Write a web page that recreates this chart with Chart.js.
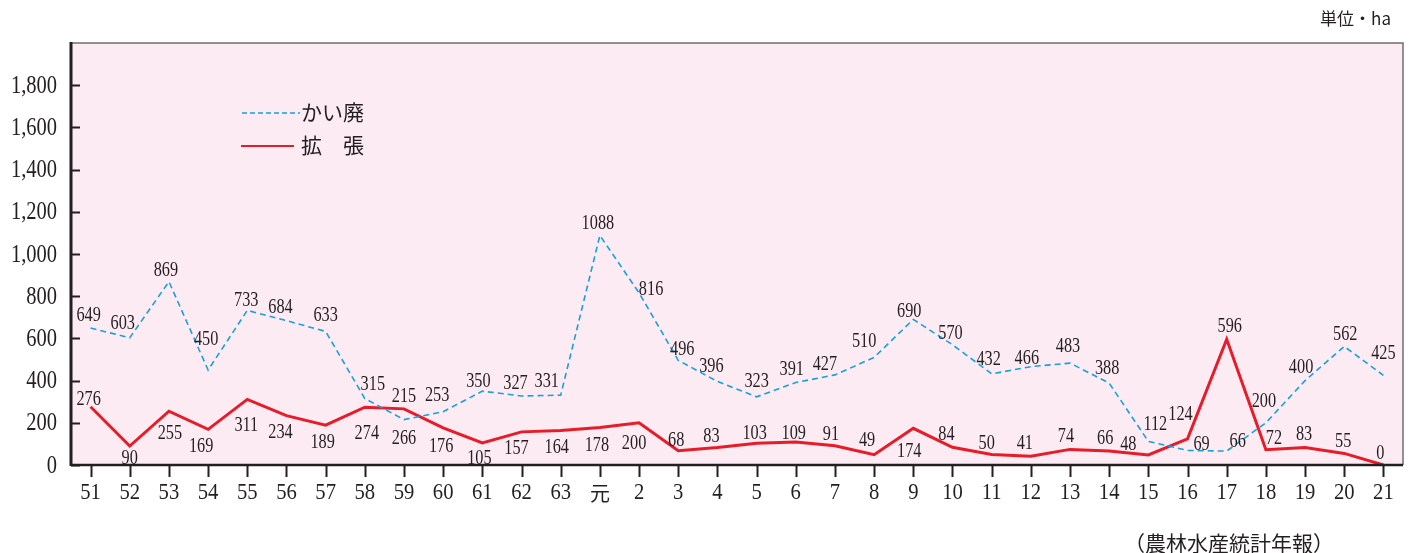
<!DOCTYPE html>
<html>
<head>
<meta charset="utf-8">
<script src="https://cdn.jsdelivr.net/npm/chart.js@4.4.1/dist/chart.umd.min.js"></script>
<style>
  html, body { margin: 0; padding: 0; background: #ffffff; }
  #wrap { width: 1414px; height: 553px; }
</style>
</head>
<body>
<div id="wrap"><canvas id="c" width="1414" height="553"></canvas></div>
<script>
// ---- data ----
const categories = ['51','52','53','54','55','56','57','58','59','60','61','62','63','元',
  '2','3','4','5','6','7','8','9','10','11','12','13','14','15','16','17','18','19','20','21'];
const kaihai = [649,603,869,450,733,684,633,315,215,253,350,327,331,1088,
  816,496,396,323,391,427,510,690,570,432,466,483,388,112,69,66,200,400,562,425];
const kakucho = [276,90,255,169,311,234,189,274,266,176,105,157,164,178,
  200,68,83,103,109,91,49,174,84,50,41,74,66,48,124,596,72,83,55,0];
const seriesNames = ['かい廃', '拡\u3000張'];
const yTicks = [0,200,400,600,800,1000,1200,1400,1600,1800];
const unitText = '単位・ha';
const sourceText = '（農林水産統計年報）';

// ---- label placement (styling only) ----
const kaiLabelOffsets = [[-2,-14],[-7,-16],[-3,-12],[-2,-32],[-1,-11],[-6,-14],[0,-17],[8,-15],[0,-24],[-6,-17],
  [-4,-11],[-6,-14],[-14,-15],[-2,-13],[12,-5],[4,-12],[-6,-16],[0,-17],[-4,-14],[-10,-12],[-10,-17],[-4,-9],
  [-2,-13],[-3,-16],[-4,-9],[-2,-18],[-2,-16],[7,-18],[14,-7],[11,-11],[-2,-23],[-4,-14],[1,-13],[0,-23]];
const kakLabelOffsets = [[-2,-9],[0,11],[1,21],[-7,16],[-1,25],[-6,16],[-3,16],[2,25],[0,28],[-2,17],
  [-3,14],[-5,15],[-4,16],[-3,17],[-5,19],[-2,-11],[-6,-12],[-2,-11],[-2,-10],[-4,-13],[-7,-15],[-4,22],
  [-6,-14],[-5,-12],[-6,-14],[-4,-14],[-4,-14],[-20,-12],[-7,-26],[3,-14],[8,-13],[-1,-14],[-1,-13],[-3,-13]];

const BLUE = 'rgb(20,160,225)';
const RED = 'rgb(232,28,40)';
const INK = '#231f20';
const SERIF = '"Liberation Serif", "DejaVu Serif", "Noto Sans CJK JP", serif';
const CJK = '"Noto Sans CJK JP", "Liberation Serif", sans-serif';

// draw horizontally condensed text (mimics the narrow serif digits of the original)
function condensedText(ctx, text, x, y, sx, align) {
  ctx.save();
  ctx.translate(x, y);
  ctx.scale(sx, 1);
  ctx.textAlign = align;
  ctx.fillText(text, 0, 0);
  ctx.restore();
}

const framePlugin = {
  id: 'frame',
  beforeDraw(chart) {
    const {ctx, chartArea: a} = chart;
    ctx.save();
    ctx.fillStyle = 'rgb(252,235,243)';
    ctx.fillRect(a.left, a.top, a.right - a.left, a.bottom - a.top);
    ctx.restore();
  },
  afterDatasetsDraw(chart) {
    const {ctx, chartArea: a} = chart;
    const xs = chart.scales.x, ys = chart.scales.y;
    ctx.save();
    // top & right border
    ctx.strokeStyle = '#6d6d6d';
    ctx.lineWidth = 1.5;
    ctx.beginPath();
    ctx.moveTo(a.left, a.top); ctx.lineTo(a.right, a.top); ctx.lineTo(a.right, a.bottom);
    ctx.stroke();
    // left axis
    ctx.strokeStyle = INK;
    ctx.lineWidth = 3;
    ctx.beginPath();
    ctx.moveTo(a.left, a.top - 1); ctx.lineTo(a.left, a.bottom + 1);
    ctx.stroke();
    // bottom axis
    ctx.lineWidth = 2.5;
    ctx.beginPath();
    ctx.moveTo(a.left, a.bottom); ctx.lineTo(a.right, a.bottom);
    ctx.stroke();
    // y ticks (inside) + labels
    ctx.lineWidth = 2;
    ctx.fillStyle = INK;
    ctx.textBaseline = 'middle';
    ctx.font = '25px ' + SERIF;
    yTicks.forEach(v => {
      const yp = ys.getPixelForValue(v);
      const y = Math.round(yp) + 0.5;
      ctx.beginPath(); ctx.moveTo(a.left, y); ctx.lineTo(a.left + 9, y); ctx.stroke();
      condensedText(ctx, v.toLocaleString('en-US'), a.left - 14, yp + 1, 0.82, 'right');
    });
    // x ticks (outside) + labels
    ctx.font = '24px ' + SERIF;
    categories.forEach((c, i) => {
      const xp = xs.getPixelForTick(i);
      const x = Math.round(xp) + 0.5;
      ctx.beginPath(); ctx.moveTo(x, a.bottom); ctx.lineTo(x, a.bottom + 12); ctx.stroke();
      if (c === '元') {
        ctx.save(); ctx.font = '20px ' + CJK; ctx.textAlign = 'center';
        ctx.fillText(c, xp, a.bottom + 28); ctx.restore();
      } else {
        condensedText(ctx, c, xp, a.bottom + 28, 0.86, 'center');
      }
    });

    // data labels
    ctx.font = '22px ' + SERIF;
    const m0 = chart.getDatasetMeta(0), m1 = chart.getDatasetMeta(1);
    m0.data.forEach((p, i) => {
      const o = kaiLabelOffsets[i];
      condensedText(ctx, String(kaihai[i]), p.x + o[0], p.y + o[1] + 1, 0.74, 'center');
    });
    m1.data.forEach((p, i) => {
      const o = kakLabelOffsets[i];
      condensedText(ctx, String(kakucho[i]), p.x + o[0], p.y + o[1] + 1, 0.74, 'center');
    });

    // legend
    ctx.lineWidth = 1.6;
    ctx.strokeStyle = BLUE;
    ctx.setLineDash([5, 3]);
    ctx.beginPath(); ctx.moveTo(242, 113); ctx.lineTo(300, 113); ctx.stroke();
    ctx.setLineDash([]);
    ctx.strokeStyle = RED;
    ctx.lineWidth = 2;
    ctx.beginPath(); ctx.moveTo(241, 146); ctx.lineTo(294, 146); ctx.stroke();
    ctx.fillStyle = INK;
    ctx.font = '21px ' + CJK;
    ctx.textAlign = 'left';
    ctx.fillText(seriesNames[0], 301, 112);
    ctx.fillText(seriesNames[1], 301, 145);

    // unit & source
    ctx.font = '17px ' + CJK;
    ctx.textAlign = 'right';
    ctx.fillText(unitText, 1391, 19);
    ctx.font = '21px ' + CJK;
    ctx.fillText(sourceText, 1334, 543);
    ctx.restore();
  }
};

new Chart(document.getElementById('c'), {
  type: 'line',
  data: {
    labels: categories,
    datasets: [
      { label: seriesNames[0], data: kaihai, borderColor: BLUE, borderWidth: 1.6,
        borderDash: [6, 4], pointRadius: 0, tension: 0, fill: false },
      { label: seriesNames[1], data: kakucho, borderColor: RED, borderWidth: 3,
        pointRadius: 0, tension: 0, fill: false }
    ]
  },
  options: {
    responsive: false,
    animation: false,
    layout: { padding: { top: 43, right: 11, left: 0, bottom: 0 } },
    plugins: { legend: { display: false }, tooltip: { enabled: false } },
    scales: {
      x: {
        type: 'category',
        offset: true,
        grid: { display: false, drawTicks: false },
        border: { display: false },
        ticks: { display: false },
        afterFit(s) { s.height = 88; }
      },
      y: {
        min: 0, max: 2000,
        grid: { display: false, drawTicks: false },
        border: { display: false },
        ticks: { display: false, stepSize: 200 },
        afterFit(s) { s.width = 71; }
      }
    }
  },
  plugins: [framePlugin]
});
</script>
</body>
</html>
